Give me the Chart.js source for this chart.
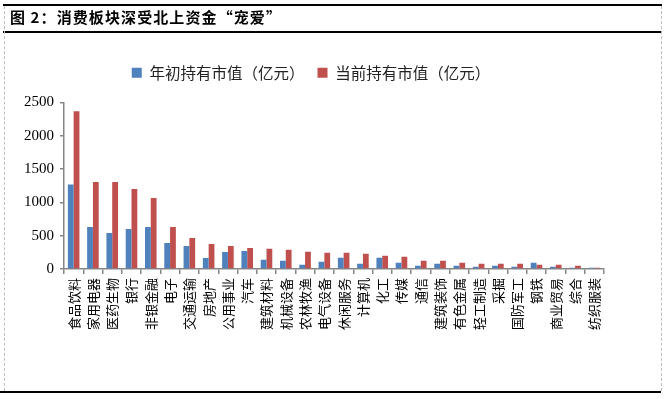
<!DOCTYPE html>
<html><head><meta charset="utf-8">
<script src="https://cdn.jsdelivr.net/npm/chart.js@4"></script>
<style>
html,body{margin:0;padding:0;background:#fff;}
#wrap{position:relative;width:666px;height:399px;overflow:hidden;background:#fff;}
#c{position:absolute;left:0;top:0;}
.hl{position:absolute;background:#000;}
.vd{position:absolute;width:0;border-left:1px dashed #bdbdbd;}
#title{position:absolute;left:10px;top:6px;font:bold 15px "Noto Sans CJK SC","Noto Sans",sans-serif;color:#000;letter-spacing:1.1px;white-space:nowrap;line-height:22px;}
</style></head>
<body>
<div id="wrap">
<canvas id="c" width="666" height="399"></canvas>
<div class="hl" style="left:3px;top:4px;width:659px;height:2px;"></div>
<div class="hl" style="left:3px;top:31px;width:659px;height:2px;"></div>
<div class="hl" style="left:0px;top:391px;width:661px;height:2px;"></div>
<div class="vd" style="left:4px;top:6px;height:385px;"></div>
<div class="vd" style="left:661px;top:6px;height:385px;"></div>
<div id="title">图 2：消费板块深受北上资金“宠爱”</div>
</div>
<script>
const categories = ["食品饮料","家用电器","医药生物","银行","非银金融","电子","交通运输","房地产","公用事业","汽车","建筑材料","机械设备","农林牧渔","电气设备","休闲服务","计算机","化工","传媒","通信","建筑装饰","有色金属","轻工制造","采掘","国防军工","钢铁","商业贸易","综合","纺织服装"];
const startValues = [1270,630,540,600,630,390,345,165,255,270,140,125,65,110,170,80,170,95,50,80,50,35,50,35,95,35,20,20];
const currentValues = [2370,1305,1305,1200,1065,630,465,375,345,315,305,290,260,245,245,230,200,185,125,125,95,80,80,80,65,65,50,20];
const seriesNames = ["年初持有市值（亿元）","当前持有市值（亿元）"];
const yTicks = [0,500,1000,1500,2000,2500];

const axisColor = '#868686';
const legendGap = {
  id: 'legendGap',
  beforeInit(chart) {
    const origFit = chart.legend.fit;
    chart.legend.fit = function () {
      origFit.bind(chart.legend)();
      this.height += 12;
    };
  }
};
new Chart(document.getElementById('c'), {
  type: 'bar',
  plugins: [legendGap],
  data: {
    labels: categories,
    datasets: [
      {label: seriesNames[0], data: startValues, backgroundColor: '#4F81BD', categoryPercentage: 0.6, barPercentage: 1.0},
      {label: seriesNames[1], data: currentValues, backgroundColor: '#C0504D', categoryPercentage: 0.6, barPercentage: 1.0}
    ]
  },
  options: {
    responsive: false,
    animation: false,
    devicePixelRatio: 1,
    layout: {padding: {left: 18, right: 62, top: 52, bottom: 0}},
    plugins: {
      tooltip: {enabled: false},
      legend: {
        position: 'top',
        labels: {
          boxWidth: 10, boxHeight: 10, padding: 13,
          color: '#222',
          font: {family: '"Noto Sans CJK SC", sans-serif', size: 15.5}
        }
      }
    },
    scales: {
      x: {
        afterFit: s => { s.height = 130; },
        grid: {display: true, drawOnChartArea: false, offset: true, tickLength: 5, color: axisColor, lineWidth: 1.5},
        border: {display: true, color: axisColor, width: 1.5},
        ticks: {
          autoSkip: false, maxRotation: 90, minRotation: 90,
          color: '#000', padding: 4,
          font: {family: '"Noto Sans CJK SC", sans-serif', size: 13}
        }
      },
      y: {
        min: 0, max: 2500,
        afterFit: s => { s.width = 46; },
        afterBuildTicks: s => { s.ticks = yTicks.map(v => ({value: v})); },
        grid: {display: true, drawOnChartArea: false, tickLength: 4, color: axisColor, lineWidth: 1.5},
        border: {display: true, color: axisColor, width: 1.5},
        ticks: {
          color: '#000', padding: 6,
          callback: v => String(v),
          font: {family: '"Liberation Serif", "Times New Roman", serif', size: 15}
        }
      }
    }
  }
});
</script>
</body></html>
